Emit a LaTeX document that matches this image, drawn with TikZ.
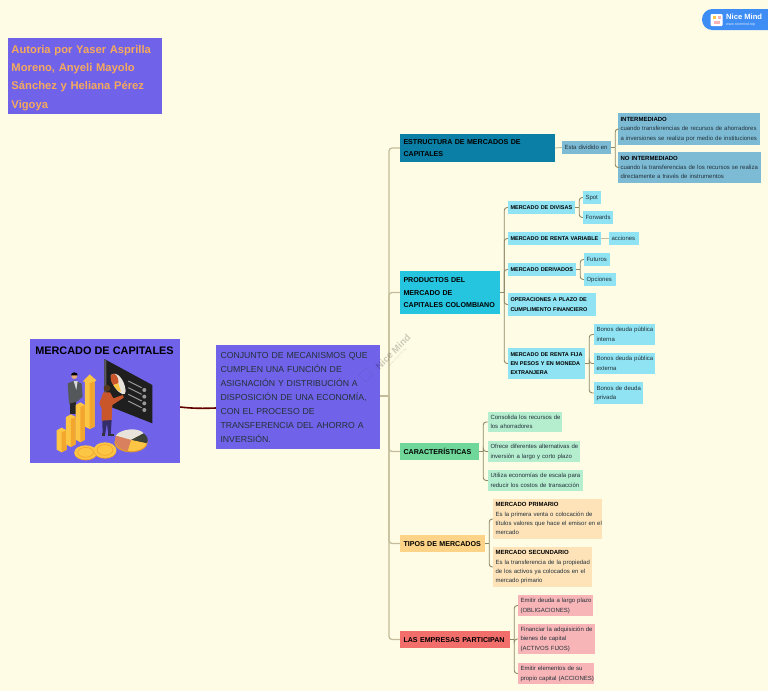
\documentclass[tikz,border=0pt]{standalone}
\usepackage{fontspec}
\setmainfont{Liberation Sans}
\definecolor{bgc}{HTML}{FFFCE5}
\definecolor{purp}{HTML}{7163E9}
\definecolor{autxt}{HTML}{F4A95E}
\definecolor{estc}{HTML}{0B7FA5}
\definecolor{medc}{HTML}{7DBBD5}
\definecolor{proc}{HTML}{25C5E0}
\definecolor{subc}{HTML}{8FE3F2}
\definecolor{carc}{HTML}{6FD799}
\definecolor{carl}{HTML}{B5EDCF}
\definecolor{tipc}{HTML}{FDD487}
\definecolor{tipl}{HTML}{FEE3B9}
\definecolor{empc}{HTML}{F26E6B}
\definecolor{empl}{HTML}{F8B5B7}
\definecolor{linec}{HTML}{8F8866}
\definecolor{trunk}{HTML}{C4BD9B}
\definecolor{txtd}{HTML}{23323A}
\definecolor{badge}{HTML}{3D8DF5}
\definecolor{gold}{HTML}{FDC544}
\definecolor{golds}{HTML}{F2A62E}
\definecolor{womanc}{HTML}{C9562B}
\definecolor{jacket}{HTML}{55585B}
\definecolor{skin}{HTML}{E8A878}
\definecolor{piea}{HTML}{E8E4DC}
\definecolor{pieb}{HTML}{3C4238}
\definecolor{piec}{HTML}{D9805F}
\tikzset{
  boxbase/.style={inner ysep=0pt,align=left,anchor=center},
  big/.style={boxbase,inner xsep=3.5pt,/utils/exec={\def\pd{7}},font=\fontsize{7.1}{12.6}\selectfont\bfseries,text=black},
  mid/.style={boxbase,inner xsep=2.5pt,/utils/exec={\def\pd{5}},font=\fontsize{5.5}{9.3}\selectfont\bfseries,text=black},
  small/.style={boxbase,inner xsep=2.5pt,/utils/exec={\def\pd{5}},font=\fontsize{6}{9.3}\selectfont,text=txtd},
  conn/.style={draw=linec,line width=0.9pt,rounded corners=3pt},
  trunkline/.style={draw=trunk,line width=1.3pt,rounded corners=3pt},
}
\newcommand{\bxx}[8]{\node[#2,fill=#7,text width={#5-#3-\pd},minimum height={#6-#4}] (#1) at ({(#3+#5)/2},{(#4+#6)/2}) {\makebox[\linewidth][l]{\begin{tabular}{@{}l@{}}#8\end{tabular}}};}
\newcommand{\link}[3][conn]{\draw[#1,sharp corners] (#2.east) -- ++(4,0);\draw[#1] ([xshift=4pt]#2.east) |- (#3.west);}
\newcommand{\tlink}[1]{\draw[trunkline] (jt) |- (#1.west);}
\begin{document}
\begin{tikzpicture}[x=1pt,y=-1pt]
\useasboundingbox (0,0) rectangle (768,691);
\fill[bgc] (0,0) rectangle (768,691);
% badge
\fill[badge] (768,9) [rounded corners=10.4pt] -- (702,9) -- (702,30) [sharp corners] -- (768,30) -- cycle;
\fill[white,rounded corners=1pt] (710.5,14) rectangle (722.5,26);
\fill[gold] (712.5,16) rectangle (715.5,19);
\fill[empl] (717.5,16) rectangle (720.5,19);
\fill[empl] (713.5,21) rectangle (719.5,24);
\node[text=white,font=\fontsize{7.6}{8}\selectfont\bfseries,inner sep=0,anchor=west] (bt) at (726,17) {Nice Mind};
\node[text=white!80!badge,font=\fontsize{3.6}{4}\selectfont,inner sep=0,anchor=west] (bu) at (726,24.5) {www.nicemind.top};
% author
\fill[purp] (8,38) rectangle (162,114);
\node[text=autxt,font=\fontsize{11.2}{18.1}\selectfont\bfseries,align=left,inner xsep=3.5pt,inner ysep=0pt,text width=147,minimum height=76] (aut) at (85,78) {Autoria por Yaser Asprilla\\Moreno, Anyeli Mayolo\\Sánchez y Heliana Pérez\\Vigoya};
% main
\fill[purp] (30,339) rectangle (180,463);
\node (main) at (105,401) [minimum width=150,minimum height=124,inner sep=0] {};
\node[font=\fontsize{10.9}{12}\selectfont\bfseries,text=black,inner sep=0] (mt) at (104.5,351) {MERCADO DE CAPITALES};
\begin{scope}[shift={(45,355)},x=0.3333pt,y=-0.3333pt]
  % board
  \fill[black!88] (178,12) -- (322,90) -- (322,205) -- (178,148) -- cycle;
  \fill[black!65] (178,12) -- (184,16) -- (184,150) -- (178,148) -- cycle;
  \fill[piea] (198,60) .. controls (215,45) and (240,75) .. (242,108) .. controls (243,125) and (225,118) .. (212,100) .. controls (202,88) and (196,72) .. (198,60) -- cycle;
  \fill[womanc] (198,60) .. controls (208,50) and (222,62) .. (220,85) -- (205,90) .. controls (198,80) and (196,72) .. (198,60) -- cycle;
  \fill[gold] (220,85) -- (205,90) .. controls (210,100) and (220,110) .. (228,110) -- cycle;
  \foreach \r in {0,1,2,3}{
    \draw[black!40,line width=1pt] (250,{78+20*\r}) -- (290,{98+20*\r});
    \fill[black!40] (298,{105+20*\r}) circle (6);
  }
  % man
  \fill[black!85] (76,140) rectangle (92,178);
  \fill[jacket] (68,85) -- (90,76) -- (110,86) -- (113,125) -- (96,140) -- (72,146) -- cycle;
  \fill[white!85!black] (86,78) -- (98,78) -- (94,105) -- cycle;
  \fill[skin] (88,63) circle (9);
  \fill[black] (78,61) arc (180:360:10 and 9) -- cycle;
  % woman
  \fill[black!55!purp] (172,195) -- (200,195) -- (197,240) -- (190,240) -- (186,205) -- (180,240) -- (173,240) -- cycle;
  \fill[black!80] (172,235) rectangle (180,243);
  \fill[black!80] (190,236) rectangle (208,243);
  \fill[womanc] (175,112) -- (195,112) -- (205,130) -- (234,120) -- (236,128) -- (202,150) -- (200,195) -- (170,197) -- (170,160) -- (163,145) -- cycle;
  \fill[black!55!brown] (186,100) circle (10);
  % bars
  \foreach \xa/\xb/\t/\b in {35/65/218/292,63/92/178/276,92/120/142/262}{
    \fill[gold] (\xa,{\t+8}) -- ({(\xa+\xb)/2},\t) -- (\xb,{\t+8}) -- (\xb,{\b-8}) -- ({(\xa+\xb)/2},\b) -- (\xa,{\b-8}) -- cycle;
    \fill[golds] ({(\xa+\xb)/2},{\t+14}) -- (\xb,{\t+8}) -- (\xb,{\b-8}) -- ({(\xa+\xb)/2},\b) -- cycle;
  }
  \fill[gold] (120,80) -- (113,80) -- (134,58) -- (154,76) -- (149,80) -- (149,215) -- (134,222) -- (120,215) -- cycle;
  \fill[golds] (134,84) -- (149,80) -- (149,215) -- (134,222) -- cycle;
  % coins
  \foreach \cx/\cy/\rx/\ry in {122/292/34/21,180/285/34/23}{
    \fill[golds] (\cx,{\cy+3}) ellipse ({\rx} and {\ry});
    \fill[gold] (\cx,\cy) ellipse ({\rx} and {\ry});
    \draw[golds,line width=0.7pt] (\cx,\cy) ellipse ({\rx*0.7} and {\ry*0.7});
  }
  % pie
  \fill[golds!60!brown] (258,262) ellipse (50 and 30);
  \fill[piea] (258,255) -- (212,242) .. controls (225,222) and (280,215) .. (296,235) -- cycle;
  \fill[pieb] (258,255) -- (296,235) .. controls (310,245) and (310,258) .. (305,265) -- cycle;
  \fill[gold] (258,255) -- (305,265) .. controls (300,282) and (270,292) .. (248,287) -- cycle;
  \fill[piec] (258,255) -- (248,287) .. controls (225,285) and (205,265) .. (212,242) -- cycle;
\end{scope}
% central description
\fill[purp] (216,345) rectangle (380,449);
\node[text=txtd,font=\fontsize{8.7}{13.9}\selectfont,align=left,inner xsep=4.5pt,inner ysep=0pt,text width=155,minimum height=103] (desc) at (298,397.5) {CONJUNTO DE MECANISMOS QUE\\CUMPLEN UNA FUNCIÓN DE\\ASIGNACIÓN Y DISTRIBUCIÓN A\\DISPOSICIÓN DE UNA ECONOMÍA,\\CON EL PROCESO DE\\TRANSFERENCIA DEL AHORRO A\\INVERSIÓN.};
\draw[draw=black!30!red!55!black,line width=1.6pt] ([yshift=-6pt]main.east) .. controls (192,408.5) and (204,408.5) .. ([yshift=-10.5pt]desc.west);
\coordinate (jt) at (389,396);
% level 1
\bxx{est}{big}{400}{134}{555}{162}{estc}{ESTRUCTURA DE MERCADOS DE\\CAPITALES}
\bxx{pro}{big}{400}{271}{500}{314}{proc}{PRODUCTOS DEL\\MERCADO DE\\CAPITALES COLOMBIANO}
\bxx{car}{big}{400}{443}{479}{460}{carc}{CARACTERÍSTICAS}
\bxx{tip}{big}{400}{535}{485}{552}{tipc}{TIPOS DE MERCADOS}
\bxx{emp}{big}{400}{631}{510}{648}{empc}{LAS EMPRESAS PARTICIPAN}
\draw[trunkline,sharp corners] (desc.east |- jt) -- (jt);
\tlink{est}\tlink{pro}\tlink{car}\tlink{tip}\tlink{emp}
% estructura
\bxx{esta}{small}{562}{141}{611}{154}{medc}{Esta dividido en}
\bxx{inter}{small}{618}{113}{760}{145}{medc}{{\bfseries\color{black}INTERMEDIADO}\\cuando transferencias de recursos de ahorradores\\a inversiones se realiza por medio de instituciones}
\bxx{nointer}{small}{618}{152}{761}{183}{medc}{{\bfseries\color{black}NO INTERMEDIADO}\\cuando la transferencias de los recursos se realiza\\directamente a través de instrumentos}
\draw[conn,draw=trunk] (est.east) -- (esta.west);
\link{esta}{inter}\link{esta}{nointer}
% productos
\bxx{div}{mid}{508}{201}{575}{214}{subc}{MERCADO DE DIVISAS}
\bxx{var}{mid}{508}{232}{601}{245}{subc}{MERCADO DE RENTA VARIABLE}
\bxx{der}{mid}{508}{263}{576}{276}{subc}{MERCADO DERIVADOS}
\bxx{ope}{mid}{508}{293}{596}{316}{subc}{OPERACIONES A PLAZO DE\\CUMPLIMENTO FINANCIERO}
\bxx{fij}{mid}{508}{348}{585}{379}{subc}{MERCADO DE RENTA FIJA\\EN PESOS Y EN MONEDA\\EXTRANJERA}
\link{pro}{div}\link{pro}{var}\link{pro}{der}\link{pro}{ope}\link{pro}{fij}
\bxx{spot}{small}{583}{191}{601}{204}{subc}{Spot}
\bxx{forw}{small}{583}{211}{613}{224}{subc}{Forwards}
\bxx{acc}{small}{609}{232}{639}{245}{subc}{acciones}
\bxx{fut}{small}{584}{253}{610}{266}{subc}{Futuros}
\bxx{opc}{small}{584}{273}{616}{286}{subc}{Opciones}
\bxx{bin}{small}{594}{324}{655}{345}{subc}{Bonos deuda pública\\interna}
\bxx{bex}{small}{594}{353}{655}{374}{subc}{Bonos deuda pública\\externa}
\bxx{bpr}{small}{594}{382}{643}{404}{subc}{Bonos de deuda\\privada}
\link{div}{spot}\link{div}{forw}
\draw[conn,draw=trunk] (var.east) -- (acc.west);
\link{der}{fut}\link{der}{opc}
\link{fij}{bin}\link{fij}{bex}\link{fij}{bpr}
% caracteristicas
\bxx{c1}{small}{488}{412}{562}{432}{carl}{Consolida los recursos de\\los ahorradores}
\bxx{c2}{small}{488}{441}{580}{462}{carl}{Ofrece diferentes alternativas de\\inversión a largo y corto plazo}
\bxx{c3}{small}{488}{470}{583}{491}{carl}{Utiliza economías de escala para\\reducir los costos de transacción}
\link{car}{c1}\link{car}{c2}\link{car}{c3}
% tipos
\bxx{t1}{small}{493}{499}{602}{539}{tipl}{{\bfseries\color{black}MERCADO PRIMARIO}\\Es la primera venta o colocación de\\títulos valores que hace el emisor en el\\mercado}
\bxx{t2}{small}{493}{547}{592}{587}{tipl}{{\bfseries\color{black}MERCADO SECUNDARIO}\\Es la transferencia de la propiedad\\de los activos ya colocados en el\\mercado primario}
\link{tip}{t1}\link{tip}{t2}
% empresas
\bxx{e1}{small}{518}{595}{593}{616}{empl}{Emitir deuda a largo plazo\\(OBLIGACIONES)}
\bxx{e2}{small}{518}{624}{595}{654}{empl}{Financiar la adquisición de\\bienes de capital\\(ACTIVOS FIJOS)}
\bxx{e3}{small}{518}{663}{594}{684}{empl}{Emitir elementos de su\\propio capital (ACCIONES)}
\link{emp}{e1}\link{emp}{e2}\link{emp}{e3}
% watermark
\node[rotate=45,text=black,opacity=0.2,font=\fontsize{9.5}{9.5}\selectfont\bfseries,inner sep=0] (wm) at (393,352) {Nice Mind};
\node[rotate=45,text=black,opacity=0.12,font=\fontsize{3}{3}\selectfont,inner sep=0] (wmu) at (398,357) {www.nicemind.top};
\node[rotate=45,draw=black,opacity=0.08,minimum size=10,inner sep=0] (wmi) at (366,375) {};
\end{tikzpicture}
\end{document}
